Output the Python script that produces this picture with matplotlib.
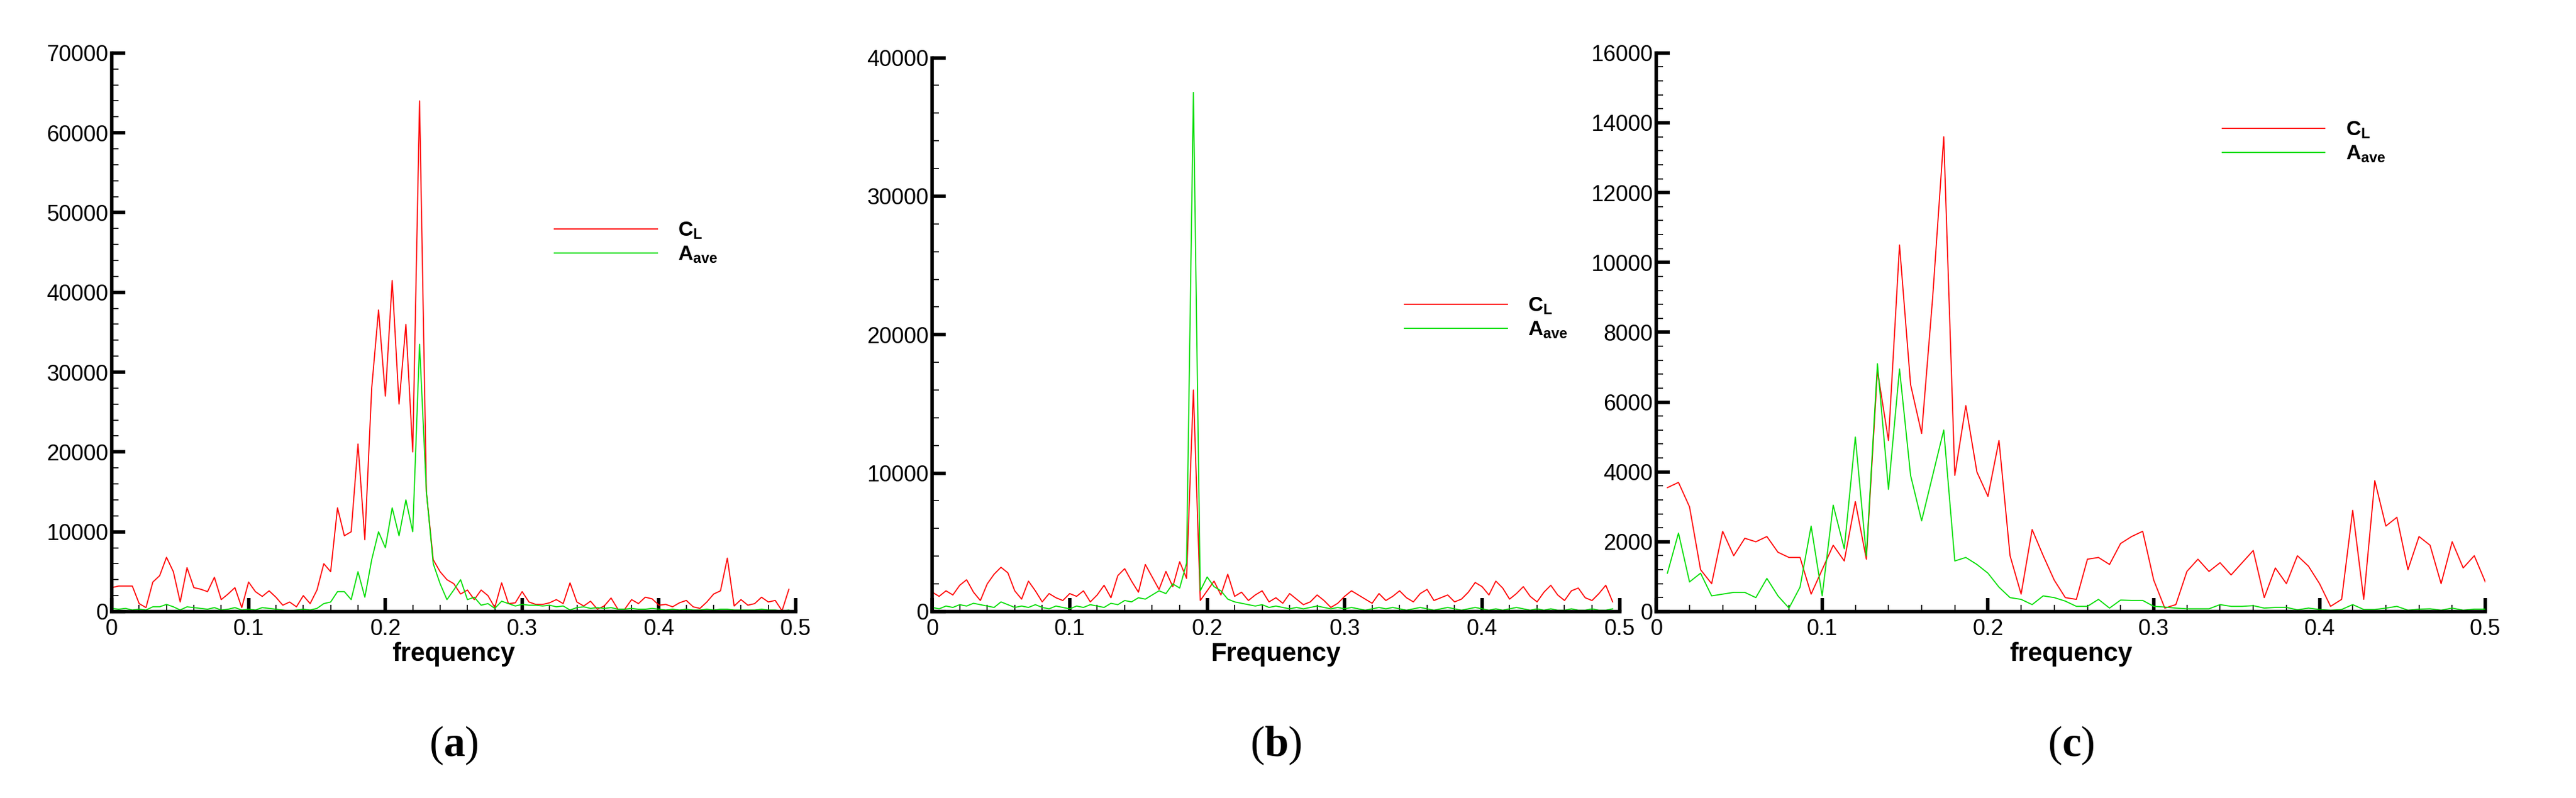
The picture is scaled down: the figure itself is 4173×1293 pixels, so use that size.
import numpy as np
import matplotlib
matplotlib.use("Agg")
import matplotlib.pyplot as plt
from matplotlib.ticker import MultipleLocator

plt.rcParams['font.family'] = ['Liberation Sans', 'DejaVu Sans']
plt.rcParams['mathtext.fontset'] = 'custom'
plt.rcParams['mathtext.rm'] = 'Liberation Serif'
plt.rcParams['mathtext.bf'] = 'Liberation Serif:bold'
plt.rcParams['mathtext.sf'] = 'Liberation Sans:bold'

# panel (a): spacing 0.005
freq_a = np.arange(100) * 0.005
cl_a = [3000, 3200, 3200, 3200, 1000, 500, 3700, 4500, 6800, 5000,
        1200, 5500, 3000, 2800, 2500, 4300, 1500, 2200, 3000, 500,
        3700, 2500, 1900, 2600, 1800, 800, 1200, 600, 2000, 1000,
        2700, 6000, 5000, 13000, 9500, 10000, 21000, 9000, 28000, 37800,
        27000, 41500, 26000, 36000, 20000, 64000, 15000, 6500, 5000, 4000,
        3500, 2200, 2700, 1500, 2700, 2000, 500, 3600, 1000, 1100,
        2500, 1200, 900, 900, 1100, 1500, 1000, 3600, 1200, 700,
        1300, 300, 700, 1700, 300, 300, 1500, 1000, 1800, 1600,
        800, 900, 600, 1100, 1400, 600, 400, 1200, 2200, 2600,
        6700, 700, 1500, 800, 1000, 1800, 1200, 1400, 100, 2800]
aave_a = [400, 300, 400, 200, 300, 200, 600, 600, 900, 600,
          200, 600, 500, 400, 300, 500, 200, 300, 500, 200,
          300, 200, 500, 400, 300, 200, 100, 200, 300, 200,
          400, 1000, 1200, 2500, 2500, 1500, 5000, 1800, 6500, 10000,
          8000, 13000, 9500, 14000, 10000, 33500, 15000, 6000, 3500, 1500,
          2700, 4000, 1500, 1800, 800, 1000, 400, 1300, 1000, 700,
          900, 800, 800, 700, 800, 600, 700, 200, 500, 600,
          400, 500, 400, 500, 300, 300, 400, 300, 300, 400,
          300, 200, 300, 200, 300, 200, 200, 300, 200, 300,
          300, 200, 200, 200, 200, 300, 200, 200, 100, 200]

# panel (b): spacing 0.005
freq_b = np.arange(100) * 0.005
cl_b = [1400, 1100, 1500, 1200, 1900, 2300, 1400, 800, 2000, 2700,
        3200, 2800, 1500, 900, 2200, 1500, 700, 1300, 1000, 800,
        1300, 1100, 1500, 700, 1200, 1900, 1000, 2600, 3100, 2200,
        1400, 3400, 2500, 1600, 2900, 1800, 3600, 2400, 16000, 800,
        1500, 2200, 1200, 2700, 1100, 1400, 800, 1200, 1500, 700,
        1000, 600, 1300, 900, 500, 700, 1200, 800, 300, 600,
        1100, 1500, 1200, 900, 600, 1300, 800, 1100, 1500, 1000,
        700, 1300, 1600, 800, 1000, 1200, 700, 900, 1400, 2100,
        1800, 1200, 2200, 1700, 900, 1300, 1800, 1100, 700, 1400,
        1900, 1200, 800, 1500, 1700, 1000, 800, 1300, 1900, 700]
aave_b = [300, 200, 400, 300, 500, 400, 600, 500, 400, 300,
          700, 500, 300, 400, 300, 500, 300, 200, 400, 300,
          200, 400, 300, 500, 400, 300, 600, 500, 800, 700,
          1000, 900, 1200, 1500, 1300, 2000, 1700, 3500, 37500, 1500,
          2500, 1800, 1500, 900, 700, 600, 500, 400, 500, 300,
          400, 300, 200, 300, 200, 300, 400, 300, 200, 300,
          200, 300, 200, 100, 200, 300, 200, 300, 200, 100,
          200, 300, 200, 100, 200, 300, 200, 100, 200, 300,
          200, 100, 200, 100, 200, 300, 200, 100, 200, 100,
          200, 100, 100, 200, 100, 100, 200, 100, 100, 200]

# panel (c): spacing 1/150
freq_c = np.arange(1, 76) / 150.0
cl_c = [3550, 3700, 3000, 1200, 800, 2300, 1600, 2100, 2000, 2150,
        1700, 1550, 1550, 500, 1200, 1900, 1450, 3150, 1500, 6900,
        4900, 10500, 6500, 5100, 9000, 13600, 3900, 5900, 4000, 3300,
        4900, 1600, 500, 2350, 1600, 900, 400, 350, 1500, 1550,
        1350, 1950, 2150, 2300, 900, 100, 200, 1150, 1500, 1150,
        1400, 1050, 1400, 1750, 400, 1250, 800, 1600, 1300, 800,
        150, 350, 2900, 350, 3750, 2450, 2700, 1200, 2150, 1900,
        800, 2000, 1250, 1600, 850]
aave_c = [1100, 2250, 850, 1100, 450, 500, 550, 550, 400, 950,
          450, 100, 700, 2450, 450, 3050, 1800, 5000, 1600, 7100,
          3500, 6950, 3900, 2600, 3900, 5200, 1450, 1550, 1350, 1100,
          700, 400, 350, 200, 450, 400, 300, 150, 150, 350,
          100, 330, 320, 320, 150, 130, 100, 80, 80, 80,
          200, 150, 150, 170, 100, 120, 120, 50, 100, 60,
          40, 60, 200, 60, 60, 100, 150, 40, 70, 80,
          40, 100, 40, 70, 70]

panels = [
    (freq_a, cl_a, aave_a, 70000, 10000, 2000, 'frequency', 'a', [0.0434, 0.2336, 0.2655, 0.700], (0.62, 0.66)),
    (freq_b, cl_b, aave_b, 40000, 10000, 2000, 'Frequency', 'b', [0.3619, 0.2336, 0.2668, 0.694], (0.66, 0.53)),
    (freq_c, cl_c, aave_c, 16000, 2000, 400, 'frequency', 'c', [0.6430, 0.2336, 0.3218, 0.700], (0.66, 0.84)),
]

fig = plt.figure(figsize=(41.73, 12.93), dpi=100)
for f, cl, aave, ymax, ymaj, ymin, xlabel, tag, pos, legpos in panels:
    ax = fig.add_axes(pos)
    ax.plot(f, cl, color='#ff0000', lw=1.3, label=r'$\mathsf{C_L}$')
    ax.plot(f, aave, color='#00dd00', lw=1.3, label=r'$\mathsf{A_{ave}}$')
    ax.set_xlim(0, 0.5)
    ax.set_ylim(0, ymax)
    ax.xaxis.set_major_locator(MultipleLocator(0.1))
    ax.xaxis.set_minor_locator(MultipleLocator(0.02))
    ax.yaxis.set_major_locator(MultipleLocator(ymaj))
    ax.yaxis.set_minor_locator(MultipleLocator(ymin))
    ax.xaxis.set_major_formatter(plt.FuncFormatter(lambda v, p: '0' if v == 0 else f'{v:g}'))
    for s in ['top', 'right']:
        ax.spines[s].set_visible(False)
    for s in ['left', 'bottom']:
        ax.spines[s].set_linewidth(4)
    ax.tick_params(which='major', direction='in', length=16, width=4, labelsize=26, pad=8)
    ax.tick_params(axis='y', which='major', pad=4)
    ax.tick_params(which='minor', direction='in', length=8, width=1.2)
    ax.set_xlabel(xlabel, fontsize=30, fontweight='bold', labelpad=2)
    ax.legend(loc='center left', bbox_to_anchor=legpos, frameon=False, fontsize=24,
              handlelength=5, handletextpad=1.0, labelspacing=0.2)
    fig.text(pos[0] + pos[2] / 2, 0.066, r'$\mathrm{(}\mathbf{' + tag + r'}\mathrm{)}$',
             ha='center', va='center', fontsize=50)

fig.savefig('out.png', dpi=100)
